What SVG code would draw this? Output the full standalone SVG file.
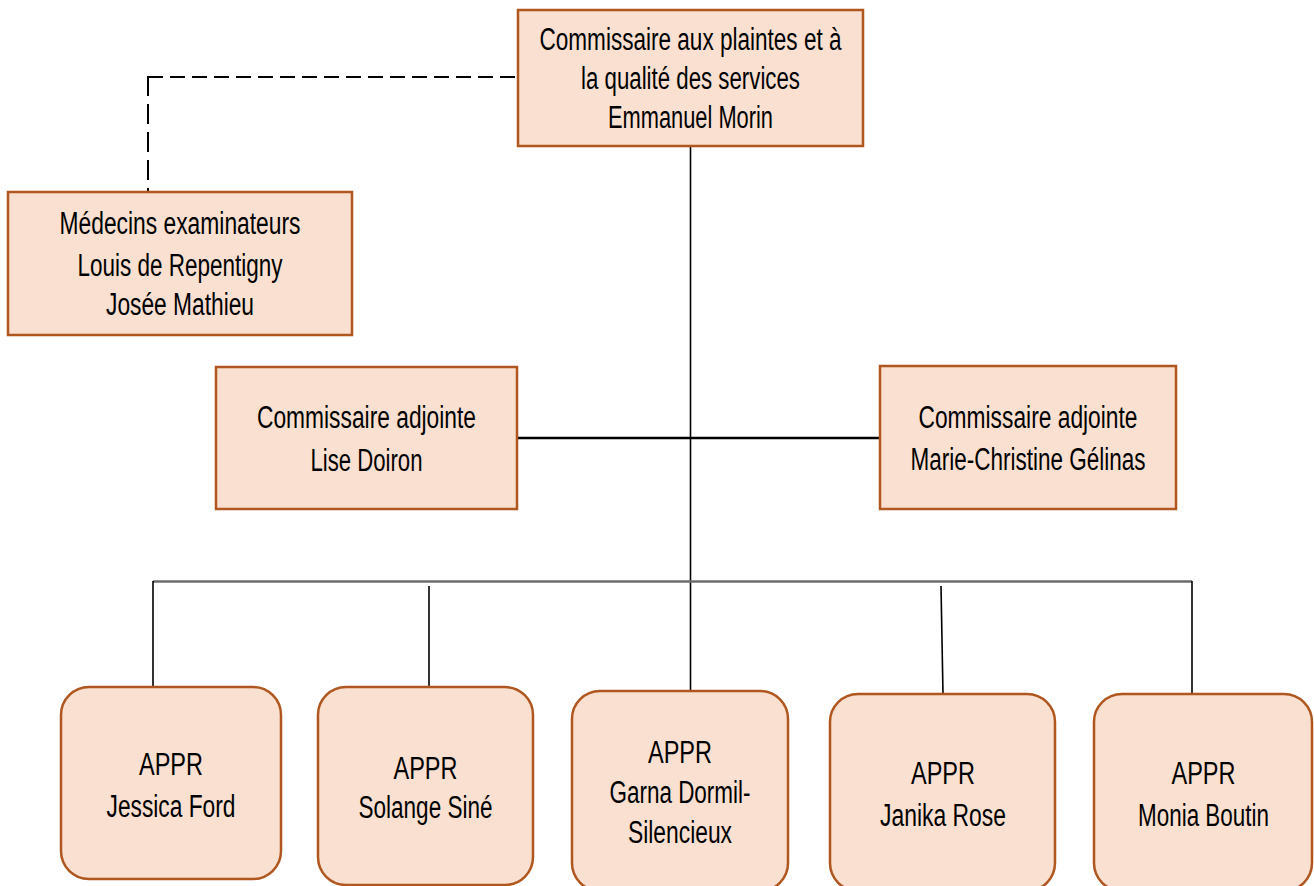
<svg xmlns="http://www.w3.org/2000/svg" width="1314" height="886" viewBox="0 0 1314 886">
<style>
.box{fill:#F9E0D1;stroke:#B0561F;stroke-width:2.5}
.t{font-family:"Liberation Sans",Arial,sans-serif;font-size:31px;fill:#000;text-anchor:middle}
.ln{stroke:#000;stroke-width:1.6;fill:none}
.thick{stroke:#000;stroke-width:2.6;fill:none}
.bus{stroke:#6b6b6b;stroke-width:2.6;fill:none}
.dh{stroke:#000;stroke-width:2;fill:none;stroke-dasharray:15 7}
.dv{stroke:#000;stroke-width:2;fill:none;stroke-dasharray:20 8}
</style>
<rect width="1314" height="886" fill="#fff"/>
<g id="connectors">
<line class="dh" x1="148" y1="77" x2="518" y2="77"/>
<line class="dv" x1="148" y1="76" x2="148" y2="192"/>
<line class="ln" x1="690.5" y1="146" x2="690.5" y2="691"/>
<line class="thick" x1="517" y1="438" x2="880" y2="438"/>
<polyline class="bus" points="153,581.5 1192,581.5"/>
<line class="ln" x1="153" y1="581" x2="153" y2="687"/>
<line class="ln" x1="429" y1="586" x2="429" y2="687"/>
<line class="ln" x1="941" y1="586" x2="943" y2="694"/>
<line class="ln" x1="1192" y1="581" x2="1192" y2="694"/>
</g>
<g id="commissaire">
<rect class="box" x="518" y="10" width="345" height="136"/>
<text class="t" x="690.5" y="49.5" textLength="302" lengthAdjust="spacingAndGlyphs">Commissaire aux plaintes et à</text>
<text class="t" x="690.5" y="89" textLength="219" lengthAdjust="spacingAndGlyphs">la qualité des services</text>
<text class="t" x="690.5" y="128" textLength="165" lengthAdjust="spacingAndGlyphs">Emmanuel Morin</text>
</g>
<g id="medecins">
<rect class="box" x="8" y="192" width="344" height="143"/>
<text class="t" x="180" y="234" textLength="241" lengthAdjust="spacingAndGlyphs">Médecins examinateurs</text>
<text class="t" x="180" y="276" textLength="205" lengthAdjust="spacingAndGlyphs">Louis de Repentigny</text>
<text class="t" x="180" y="315" textLength="148" lengthAdjust="spacingAndGlyphs">Josée Mathieu</text>
</g>
<g id="adjointe-doiron">
<rect class="box" x="216" y="367" width="301" height="142"/>
<text class="t" x="366.5" y="428" textLength="219" lengthAdjust="spacingAndGlyphs">Commissaire adjointe</text>
<text class="t" x="366.5" y="471" textLength="112" lengthAdjust="spacingAndGlyphs">Lise Doiron</text>
</g>
<g id="adjointe-gelinas">
<rect class="box" x="880" y="366" width="296" height="143"/>
<text class="t" x="1028" y="428" textLength="219" lengthAdjust="spacingAndGlyphs">Commissaire adjointe</text>
<text class="t" x="1028" y="470" textLength="235" lengthAdjust="spacingAndGlyphs">Marie-Christine Gélinas</text>
</g>
<g id="appr-ford">
<rect class="box" x="61" y="687" width="220" height="192" rx="28"/>
<text class="t" x="171" y="775" textLength="64" lengthAdjust="spacingAndGlyphs">APPR</text>
<text class="t" x="171" y="817" textLength="129" lengthAdjust="spacingAndGlyphs">Jessica Ford</text>
</g>
<g id="appr-sine">
<rect class="box" x="318" y="687" width="215" height="198" rx="28"/>
<text class="t" x="425.5" y="779" textLength="64" lengthAdjust="spacingAndGlyphs">APPR</text>
<text class="t" x="425.5" y="818" textLength="134" lengthAdjust="spacingAndGlyphs">Solange Siné</text>
</g>
<g id="appr-dormil">
<rect class="box" x="572" y="691" width="216" height="200" rx="28"/>
<text class="t" x="680" y="763" textLength="64" lengthAdjust="spacingAndGlyphs">APPR</text>
<text class="t" x="680" y="803" textLength="141" lengthAdjust="spacingAndGlyphs">Garna Dormil-</text>
<text class="t" x="680" y="843" textLength="104" lengthAdjust="spacingAndGlyphs">Silencieux</text>
</g>
<g id="appr-rose">
<rect class="box" x="830" y="694" width="225" height="197" rx="28"/>
<text class="t" x="943" y="784" textLength="64" lengthAdjust="spacingAndGlyphs">APPR</text>
<text class="t" x="943" y="826" textLength="126" lengthAdjust="spacingAndGlyphs">Janika Rose</text>
</g>
<g id="appr-boutin">
<rect class="box" x="1094" y="694" width="218" height="197" rx="28"/>
<text class="t" x="1203.5" y="784" textLength="64" lengthAdjust="spacingAndGlyphs">APPR</text>
<text class="t" x="1203.5" y="826" textLength="131" lengthAdjust="spacingAndGlyphs">Monia Boutin</text>
</g>
</svg>
